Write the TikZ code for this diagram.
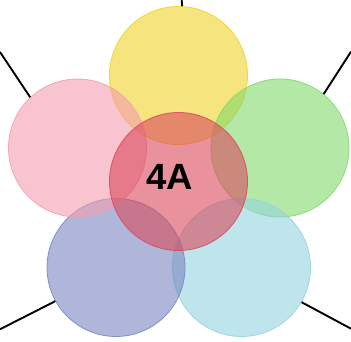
\documentclass[tikz,border=0pt]{standalone}
\usepackage{fontspec}
\setmainfont{Liberation Sans}
\usepackage{xcolor}
\usepackage{tikz}

\definecolor{petalyellow}{RGB}{240,210,40}
\definecolor{petalgreen}{RGB}{130,217,107}
\definecolor{petalcyan}{RGB}{147,212,222}
\definecolor{petalblue}{RGB}{122,133,193}
\definecolor{petalpink}{RGB}{243,157,175}
\definecolor{petalred}{RGB}{218,73,92}

\begin{document}
\begin{tikzpicture}[x=1pt, y=-1pt,
    petal/.style={circle, minimum size=138pt, inner sep=0pt, line width=0.8pt, fill opacity=0.6, draw opacity=0.9},
    leader/.style={line width=1.9pt, black}]
  \useasboundingbox (0,0) rectangle (351,342);
  \node[petal, fill=petalyellow, draw=petalyellow] (yellow) at (178.5,75.5) {};
  \node[petal, fill=petalgreen, draw=petalgreen] (green) at (280,148) {};
  \node[petal, fill=petalcyan, draw=petalcyan] (cyan) at (241.5,267.5) {};
  \node[petal, fill=petalblue, draw=petalblue] (blue) at (116,267.5) {};
  \node[petal, fill=petalpink, draw=petalpink] (pink) at (77.5,148) {};
  \node[petal, fill=petalred, draw=petalred] (core) at (178.5,181.5) {};
  \node[font=\bfseries\fontsize{36.5}{36.5}\selectfont] (label) at (170,176.5) {4A};
  % leader lines to the edge
  \coordinate (endtop) at (181.7,0);
  \coordinate (endleft) at (0,52);
  \coordinate (endright) at (351,51.7);
  \coordinate (endlowleft) at (0,329.3);
  \coordinate (endlowright) at (351,328.7);
  \draw[leader] (yellow.87) -- (endtop);
  \draw[leader] (pink.133) -- (endleft);
  \draw[leader] (green.51) -- (endright);
  \draw[leader] (blue.209) -- (endlowleft);
  \draw[leader] (cyan.330) -- (endlowright);
\end{tikzpicture}
\end{document}
